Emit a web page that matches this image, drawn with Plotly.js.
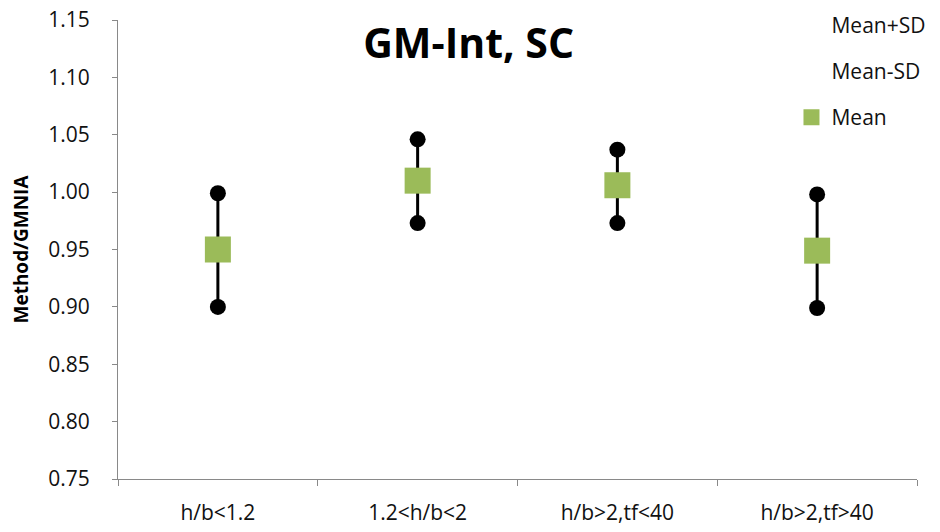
<!DOCTYPE html>
<html>
<head>
<meta charset="utf-8">
<script src="https://cdn.plot.ly/plotly-3.0.1.min.js"></script>
<style>
  html, body { margin: 0; padding: 0; background: #fff; }
  #chart { width: 940px; height: 532px; }
</style>
</head>
<body>
<div id="chart"></div>
<script>
// Section groups on the category axis
const categories = ['h/b<1.2', '1.2<h/b<2', 'h/b>2,tf<40', 'h/b>2,tf>40'];

// Ratio Method/GMNIA statistics per group
const meanValues   = [0.950, 1.010, 1.006, 0.949];
const meanPlusSD   = [0.999, 1.046, 1.037, 0.998];
const meanMinusSD  = [0.900, 0.973, 0.973, 0.899];

// Y-axis ticks
const yTickValues = [0.75, 0.80, 0.85, 0.90, 0.95, 1.00, 1.05, 1.10, 1.15];

const FONT = '"Open Sans", "Noto Sans", sans-serif';
const AXIS_GREY = '#898989';
const TEXT = '#111';

// The vertical SD span is drawn as error bars around the mean
const spanUp   = meanPlusSD.map((v, i) => v - meanValues[i]);
const spanDown = meanValues.map((v, i) => v - meanMinusSD[i]);

const traces = [
  {
    type: 'scatter', mode: 'markers', name: 'Mean+SD',
    x: categories, y: meanPlusSD,
    marker: { symbol: 'circle', size: 16, color: '#000' },
    legendgroup: 'a', hoverinfo: 'y'
  },
  {
    type: 'scatter', mode: 'markers', name: 'Mean-SD',
    x: categories, y: meanMinusSD,
    marker: { symbol: 'circle', size: 16, color: '#000' },
    legendgroup: 'b', hoverinfo: 'y'
  },
  {
    type: 'scatter', mode: 'markers', name: 'Mean',
    x: categories, y: meanValues,
    marker: { symbol: 'square', size: 26, color: '#9BBB59' },
    error_y: {
      type: 'data', symmetric: false,
      array: spanUp, arrayminus: spanDown,
      color: '#000', thickness: 3, width: 0
    },
    legendgroup: 'c', hoverinfo: 'y'
  }
];

const layout = {
  width: 940, height: 532,
  margin: { l: 118, r: 23, t: 19.5, b: 52.5, autoexpand: false },
  paper_bgcolor: '#fff', plot_bgcolor: '#fff',
  font: { family: FONT, size: 21, color: TEXT },
  title: {
    text: '<b>GM-Int, SC</b>',
    font: { family: FONT, size: 41, color: '#000' },
    x: 0.4985, xref: 'container', xanchor: 'center',
    y: 0.918, yref: 'container', yanchor: 'middle'
  },
  xaxis: {
    type: 'category',
    range: [-0.5, 3.5],
    showline: true, linecolor: AXIS_GREY, linewidth: 1,
    showgrid: false, zeroline: false,
    ticks: 'outside', tickson: 'boundaries', ticklen: 6, tickcolor: AXIS_GREY,
    ticklabelstandoff: 15,
    tickfont: { family: FONT, size: 21, color: TEXT }
  },
  yaxis: {
    range: [0.75, 1.15],
    tickmode: 'array', tickvals: yTickValues,
    ticktext: yTickValues.map(v => v.toFixed(2)),
    showline: true, linecolor: AXIS_GREY, linewidth: 1,
    showgrid: false, zeroline: false,
    ticks: 'outside', ticklen: 5, tickcolor: AXIS_GREY,
    ticklabelstandoff: 18,
    tickfont: { family: FONT, size: 21, color: TEXT },
    title: {
      text: '<b>Method/GMNIA</b>',
      font: { family: FONT, size: 19, color: '#000' },
      standoff: 14
    }
  },
  showlegend: true,
  legend: {
    x: 0.842, xref: 'container', xanchor: 'left',
    y: 0.9915, yref: 'container', yanchor: 'top',
    traceorder: 'grouped', tracegroupgap: 16,
    font: { family: FONT, size: 21, color: TEXT },
    bgcolor: 'rgba(0,0,0,0)', borderwidth: 0
  }
};

Plotly.newPlot('chart', traces, layout, { displayModeBar: false, staticPlot: true }).then(gd => {
  // The SD entries are listed by name only, without a symbol
  const items = gd.querySelectorAll('.legend .traces');
  items.forEach((el, i) => {
    if (i < 2) {
      const pts = el.querySelector('.legendpoints');
      if (pts) pts.style.display = 'none';
    }
  });
});
</script>
</body>
</html>
